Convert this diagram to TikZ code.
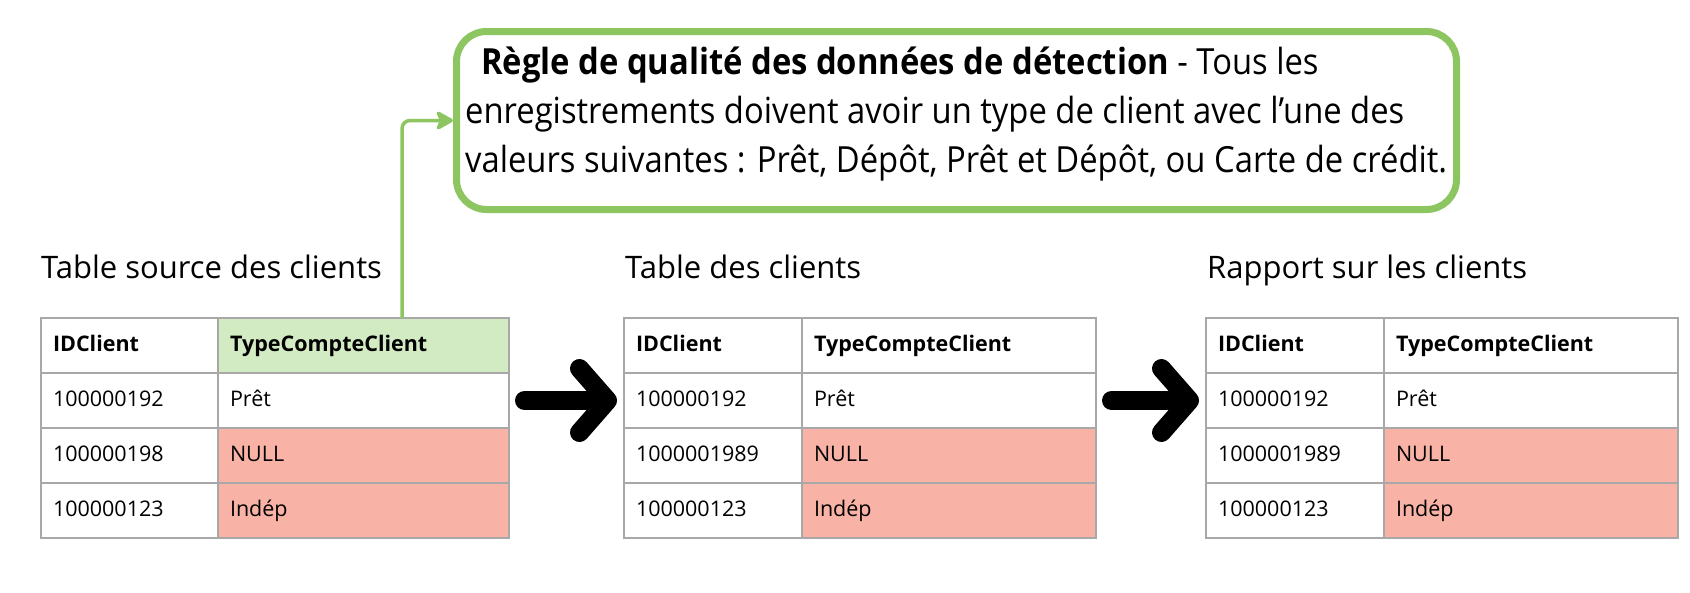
\documentclass[tikz,border=0pt]{standalone}
\usepackage{fontspec}
\setmainfont{Open Sans}
\newfontfamily\rulefont{Open Sans}[FakeStretch=0.91]
\usetikzlibrary{arrows.meta}

\definecolor{rulegreen}{HTML}{8DC561}
\definecolor{headgreen}{HTML}{D3EBC3}
\definecolor{badred}{HTML}{F8B2A6}
\definecolor{gridgray}{HTML}{A8A8A8}

\tikzset{
  cell/.style={draw=gridgray, line width=2pt, outer sep=0pt, inner xsep=12pt, inner ysep=0pt,
    minimum height=55pt, text height=15pt, text depth=4pt, align=left, anchor=north west,
    font=\fontsize{21.5}{25}\selectfont},
  tabletitle/.style={anchor=base west, inner sep=0pt, font=\fontsize{31}{37}\selectfont},
  bigarrow/.style={line width=19pt, line cap=round, shorten <=15.5pt, shorten >=7pt,
    -{Straight Barb[length=28pt, width=64pt, round]}},
  rulebox/.style={draw=rulegreen, line width=7pt, rounded corners=30pt, minimum width=1000pt,
    minimum height=178pt, inner sep=0pt},
  ruletext/.style={anchor=base west, inner sep=0pt, align=left,
    font=\rulefont\fontsize{36}{49}\selectfont},
  ruleline/.style={draw=rulegreen, line width=3.5pt, rounded corners=8pt,
    -{Stealth[length=20pt, width=22pt, inset=5pt, round]}},
}

% table: name, x, id text width, type text width, second id, header fill
\newcommand{\clienttable}[6]{%
  \node[cell, text width=#3] (#1-h1) at (#2,318) {\textbf{IDClient}};
  \node[cell, text width=#4, fill=#6] (#1-h2) at (#1-h1.north east) {\textbf{TypeCompteClient}};
  \node[cell, text width=#3] (#1-r1a) at (#1-h1.south west) {100000192};
  \node[cell, text width=#4] (#1-r1b) at (#1-r1a.north east) {Prêt};
  \node[cell, text width=#3] (#1-r2a) at (#1-r1a.south west) {#5};
  \node[cell, text width=#4, fill=badred] (#1-r2b) at (#1-r2a.north east) {NULL};
  \node[cell, text width=#3] (#1-r3a) at (#1-r2a.south west) {100000123};
  \node[cell, text width=#4, fill=badred] (#1-r3b) at (#1-r3a.north east) {Indép};
}

\begin{document}
\begin{tikzpicture}[x=1pt, y=-1pt]
  \useasboundingbox (0,0) rectangle (1690,592);

  % rule box
  \node[rulebox] (rule) at (956.5,120.5) {};
  \node[ruletext] (ruletxt) at (465,172) {\hspace*{16pt}\textbf{Règle de qualité des données de détection} - Tous les\\
    enregistrements doivent avoir un type de client avec l’une des\\
    valeurs suivantes : Prêt, Dépôt, Prêt et Dépôt, ou Carte de crédit.};

  % titles
  \node[tabletitle] (srctitle) at (41,278) {Table source des clients};
  \node[tabletitle] (clititle) at (625,278) {Table des clients};
  \node[tabletitle] (reptitle) at (1207,278) {Rapport sur les clients};

  % tables
  \clienttable{src}{41}{153pt}{267pt}{100000198}{headgreen}
  \clienttable{cli}{624}{154pt}{270pt}{1000001989}{white}
  \clienttable{rep}{1206}{154pt}{270pt}{1000001989}{white}

  % arrows
  \draw[bigarrow] (src-r1b.east) -- (cli-r1a.west);
  \draw[bigarrow] (cli-r1b.east) -- (rep-r1a.west);
  \coordinate (tap) at (402,318);
  \draw[ruleline] (tap) |- (rule.west);
\end{tikzpicture}
\end{document}
